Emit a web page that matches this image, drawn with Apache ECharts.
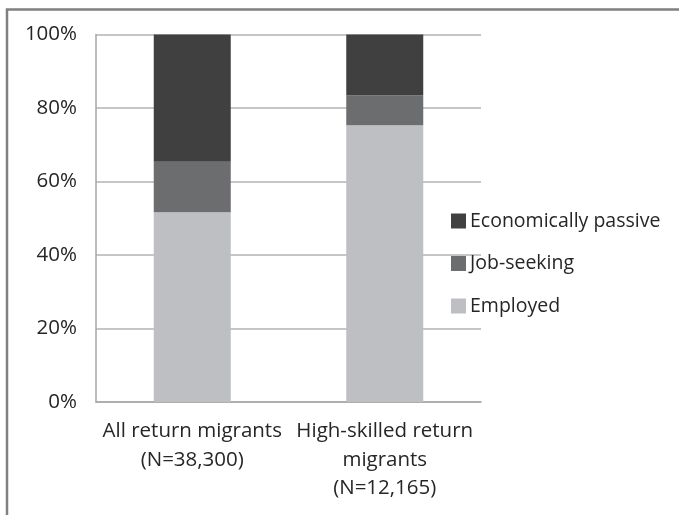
<!DOCTYPE html>
<html>
<head>
<meta charset="utf-8">
<script src="https://cdn.jsdelivr.net/npm/echarts@6/dist/echarts.min.js"></script>
<style>
  html, body { margin: 0; padding: 0; background: #fff; }
  #chart { width: 679px; height: 515px; }
</style>
</head>
<body>
<div id="chart"></div>
<script>
// Labour-market status of return migrants (shares, %)
const categories = ['All return migrants\n(N=38,300)', 'High-skilled return\nmigrants\n(N=12,165)'];
const employed = [51.6, 75.3];
const jobSeeking = [13.8, 8.2];
const passive = [34.6, 16.5];
const yTicks = [0, 20, 40, 60, 80, 100];

const FONT = 'Open Sans';
const TEXT = '#262626';

const chart = echarts.init(document.getElementById('chart'), null, { renderer: 'canvas' });

const barBase = {
  type: 'bar',
  stack: 'share',
  barWidth: 77,
  emphasis: { disabled: true }
};

chart.setOption({
  animation: false,
  textStyle: { fontFamily: FONT },
  grid: { left: 96, right: 198, top: 34.5, bottom: 113, containLabel: false },
  xAxis: {
    type: 'category',
    data: categories,
    axisLine: { show: true, lineStyle: { color: '#a6a6a6', width: 1.5 } },
    axisTick: { show: false },
    axisLabel: {
      fontFamily: FONT, fontSize: 20.5, color: TEXT,
      lineHeight: 28.5, margin: 15, interval: 0
    }
  },
  yAxis: {
    type: 'value',
    min: yTicks[0],
    max: yTicks[yTicks.length - 1],
    interval: yTicks[1] - yTicks[0],
    axisLine: { show: true, lineStyle: { color: '#a6a6a6', width: 1.5 } },
    axisTick: { show: false },
    splitLine: { lineStyle: { color: '#b3b3b3', width: 1.5 } },
    axisLabel: {
      fontFamily: FONT, fontSize: 20.5, color: TEXT, margin: 19,
      formatter: '{value}%'
    }
  },
  legend: {
    orient: 'vertical',
    left: 451,
    top: 211,
    padding: 0,
    itemWidth: 15,
    itemHeight: 15,
    itemGap: 22.5,
    icon: 'rect',
    selectedMode: false,
    data: ['Economically passive', 'Job-seeking', 'Employed'],
    textStyle: { fontFamily: FONT, fontSize: 19.5, color: TEXT, padding: [0, 0, 0, -1] }
  },
  graphic: [
    {
      type: 'polyline',
      silent: true,
      shape: { points: [[7, 515], [7, 9.5], [679, 9.5]] },
      style: { stroke: '#808080', lineWidth: 2.5, fill: null }
    }
  ],
  series: [
    Object.assign({}, barBase, { name: 'Employed', data: employed, itemStyle: { color: '#bebfc3' } }),
    Object.assign({}, barBase, { name: 'Job-seeking', data: jobSeeking, itemStyle: { color: '#6c6d6f' } }),
    Object.assign({}, barBase, { name: 'Economically passive', data: passive, itemStyle: { color: '#404040' } })
  ]
});
</script>
</body>
</html>
